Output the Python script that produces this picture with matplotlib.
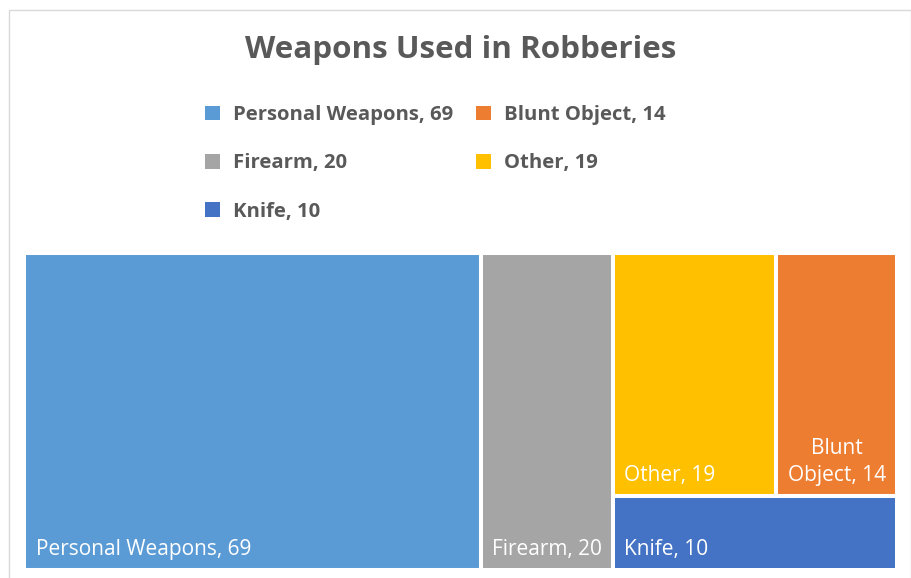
import matplotlib.pyplot as plt
from matplotlib.patches import Rectangle, Patch

plt.rcParams['font.family'] = ['Open Sans', 'DejaVu Sans']

# data
categories = ['Personal Weapons', 'Firearm', 'Other', 'Blunt Object', 'Knife']
values = [69, 20, 19, 14, 10]
colors = ['#5B9BD5', '#A5A5A5', '#FFC000', '#ED7D31', '#4472C4']
legend_order = ['Personal Weapons', 'Firearm', 'Knife', 'Blunt Object', 'Other']
title = 'Weapons Used in Robberies'

TEXT = '#595959'
W, H = 912, 578


def split(x, y, w, h, groups, horizontal):
    # split a box among groups of categories, proportional to their totals
    sums = [sum(values[categories.index(c)] for c in g) for g in groups]
    tot = sum(sums)
    out = []
    pos = 0.0
    for g, s in zip(groups, sums):
        if horizontal:
            out.append((x + w * pos / tot, y, w * s / tot, h))
        else:
            out.append((x, y + h * pos / tot, w, h * s / tot))
        pos += s
    return out


def layout(x, y, w, h):
    rects = {}
    cols = split(x, y, w, h, [['Personal Weapons'], ['Firearm'],
                              ['Other', 'Blunt Object', 'Knife']], True)
    rects['Personal Weapons'] = cols[0]
    rects['Firearm'] = cols[1]
    rows = split(*cols[2], [['Other', 'Blunt Object'], ['Knife']], False)
    rects['Knife'] = rows[1]
    top = split(*rows[0], [['Other'], ['Blunt Object']], True)
    rects['Other'] = top[0]
    rects['Blunt Object'] = top[1]
    return rects


def _main():
    fig = plt.figure(figsize=(W / 100, H / 100), dpi=100)
    ax = fig.add_axes([0, 0, 1, 1])
    ax.set_xlim(0, W)
    ax.set_ylim(H, 0)
    ax.axis('off')

    # chart border
    ax.add_patch(Rectangle((9.5, 9.5), 901.5, 600, fill=False,
                           edgecolor='#D9D9D9', lw=1.0))

    rects = layout(24.5, 253, 872.5, 317)
    for cat, col in zip(categories, colors):
        x, y, w, h = rects[cat]
        ax.add_patch(Rectangle((x, y), w, h, facecolor=col,
                               edgecolor='white', lw=2.9))
        val = values[categories.index(cat)]
        if cat == 'Blunt Object':
            ax.text(x + w / 2, y + h - 15, 'Blunt\nObject, %d' % val,
                    ha='center', va='baseline', color='white',
                    fontsize=15, linespacing=1.42)
        else:
            ax.text(x + 11.5, y + h - 15, '%s, %d' % (cat, val),
                    ha='left', va='baseline', color='white', fontsize=15)

    ax.text(461, 58, title, ha='center', va='baseline',
            fontsize=22.6, fontweight='bold', color=TEXT)

    handles = [Patch(facecolor=colors[categories.index(c)],
                     label='%s, %d' % (c, values[categories.index(c)]))
               for c in legend_order]
    leg = ax.legend(handles=handles, ncol=2, loc='upper left',
                    bbox_to_anchor=(205 / W, 1 - 105 / H), frameon=False,
                    borderpad=0, borderaxespad=0,
                    handlelength=0.75, handleheight=0.75, handletextpad=0.65,
                    columnspacing=1.1, labelspacing=1.4,
                    prop={'weight': 'bold', 'size': 14.6})
    for t in leg.get_texts():
        t.set_color(TEXT)

    fig.savefig('out.png', dpi=100)


if __name__ == '__main__':
    _main()
